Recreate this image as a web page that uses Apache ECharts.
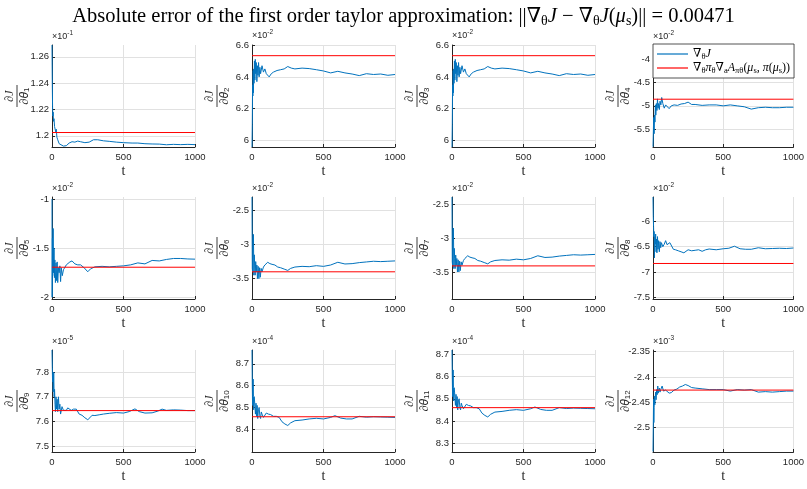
<!DOCTYPE html>
<html>
<head>
<meta charset="utf-8">
<title>First order taylor approximation</title>
<script src="https://cdn.jsdelivr.net/npm/echarts@6/dist/echarts.min.js"></script>
<style>
html, body { margin: 0; padding: 0; background: #fff; }
#chart { width: 807px; height: 489px; }
</style>
</head>
<body>
<div id="chart"></div>
<script>
// values, in units of each axis exponent (x10^e)
const blue1 = [[0,1.269],[2,1.24],[4,1.222],[6,1.215],[8,1.218],[10,1.211],[14,1.213],[18,1.207],[22,1.208],[26,1.203],[30,1.205],[34,1.199],[40,1.197],[50,1.194],[60,1.1925],[80,1.1922],[100,1.1925],[110,1.1935],[120,1.1945],[140,1.1955],[160,1.1952],[180,1.196],[200,1.1955],[230,1.1948],[260,1.1952],[290,1.197],[320,1.197],[360,1.1962],[400,1.1958],[450,1.1952],[500,1.1948],[560,1.1945],[600,1.1945],[650,1.194],[700,1.1938],[750,1.1937],[800,1.1932],[850,1.1935],[900,1.1933],[950,1.1935],[1000,1.1933]];
const blue2 = [[0,5.96],[2,6.1],[4,6.35],[6,6.28],[8,6.44],[10,6.3],[12,6.45],[14,6.36],[17,6.5],[20,6.38],[23,6.51],[26,6.42],[30,6.49],[34,6.37],[38,6.47],[42,6.41],[46,6.49],[50,6.4],[55,6.46],[60,6.42],[70,6.47],[80,6.43],[90,6.45],[100,6.42],[110,6.41],[120,6.4],[135,6.42],[150,6.43],[175,6.44],[200,6.445],[225,6.45],[250,6.465],[275,6.455],[300,6.45],[350,6.455],[400,6.452],[450,6.445],[500,6.437],[550,6.425],[600,6.435],[650,6.425],[700,6.418],[750,6.408],[800,6.42],[850,6.415],[900,6.418],[950,6.41],[1000,6.415]];
const blue3 = [[0,5.96],[2,6.1],[4,6.35],[6,6.28],[8,6.44],[10,6.3],[12,6.45],[14,6.36],[17,6.5],[20,6.38],[23,6.51],[26,6.42],[30,6.49],[34,6.37],[38,6.47],[42,6.41],[46,6.49],[50,6.4],[55,6.46],[60,6.42],[70,6.47],[80,6.43],[90,6.45],[100,6.42],[110,6.41],[120,6.4],[135,6.42],[150,6.43],[175,6.44],[200,6.445],[225,6.45],[250,6.465],[275,6.455],[300,6.45],[350,6.455],[400,6.452],[450,6.445],[500,6.437],[550,6.425],[600,6.435],[650,6.425],[700,6.418],[750,6.408],[800,6.42],[850,6.415],[900,6.418],[950,6.41],[1000,6.415]];
const blue4 = [[0,-5.88],[3,-5.5],[5,-5.25],[8,-5.6],[11,-5.2],[14,-5.35],[17,-4.98],[20,-5.2],[24,-4.95],[28,-5.1],[32,-4.85],[36,-5.05],[40,-4.95],[45,-5.08],[50,-4.9],[56,-4.98],[62,-4.82],[70,-4.95],[80,-5.05],[90,-4.98],[100,-5.02],[115,-5.06],[130,-5.0],[150,-4.98],[175,-4.99],[200,-4.96],[225,-4.95],[250,-4.92],[275,-4.97],[300,-4.97],[350,-4.99],[400,-4.98],[450,-4.98],[500,-5.0],[550,-4.98],[600,-5.0],[650,-5.02],[700,-5.07],[750,-5.04],[800,-5.03],[850,-5.04],[900,-5.04],[950,-5.03],[1000,-5.03]];
const blue5 = [[0,-1.0],[1,-2.0],[3,-1.4],[5,-1.78],[8,-1.3],[11,-1.75],[14,-1.5],[17,-1.8],[20,-1.62],[24,-1.85],[28,-1.65],[32,-1.83],[36,-1.64],[40,-1.85],[45,-1.7],[50,-1.75],[55,-1.68],[60,-1.84],[65,-1.7],[72,-1.78],[80,-1.72],[90,-1.7],[100,-1.67],[110,-1.66],[125,-1.64],[140,-1.63],[160,-1.66],[180,-1.67],[200,-1.67],[225,-1.7],[250,-1.74],[270,-1.71],[300,-1.69],[350,-1.685],[400,-1.69],[450,-1.685],[500,-1.68],[550,-1.67],[600,-1.65],[650,-1.66],[700,-1.625],[750,-1.63],[800,-1.615],[850,-1.605],[900,-1.605],[950,-1.61],[1000,-1.612]];
const blue6 = [[0,-2.3],[2,-3.35],[4,-3.4],[7,-2.9],[10,-2.85],[13,-3.45],[16,-3.15],[19,-3.3],[22,-3.45],[26,-3.25],[30,-3.4],[34,-3.3],[38,-3.5],[43,-3.32],[48,-3.5],[53,-3.34],[58,-3.48],[64,-3.35],[70,-3.4],[80,-3.33],[90,-3.3],[100,-3.28],[110,-3.26],[125,-3.28],[140,-3.29],[160,-3.3],[180,-3.33],[200,-3.34],[225,-3.36],[250,-3.38],[270,-3.35],[300,-3.33],[350,-3.32],[400,-3.325],[450,-3.31],[500,-3.32],[550,-3.3],[600,-3.26],[650,-3.285],[700,-3.28],[750,-3.265],[800,-3.255],[850,-3.245],[900,-3.25],[950,-3.245],[1000,-3.24]];
const blue7 = [[0,-2.39],[2,-3.35],[4,-3.4],[7,-2.9],[10,-2.85],[13,-3.45],[16,-3.15],[19,-3.3],[22,-3.45],[26,-3.25],[30,-3.4],[34,-3.3],[38,-3.5],[43,-3.32],[48,-3.5],[53,-3.34],[58,-3.48],[64,-3.35],[70,-3.4],[80,-3.33],[90,-3.3],[100,-3.28],[110,-3.26],[125,-3.28],[140,-3.29],[160,-3.3],[180,-3.33],[200,-3.34],[225,-3.36],[250,-3.38],[270,-3.35],[300,-3.33],[350,-3.32],[400,-3.325],[450,-3.31],[500,-3.32],[550,-3.3],[600,-3.26],[650,-3.285],[700,-3.28],[750,-3.265],[800,-3.255],[850,-3.245],[900,-3.25],[950,-3.245],[1000,-3.24]];
const blue8 = [[0,-5.52],[2,-5.9],[4,-6.1],[6,-6.3],[8,-6.2],[10,-6.72],[13,-6.3],[16,-6.45],[19,-6.25],[22,-6.6],[25,-6.35],[28,-6.62],[32,-6.3],[36,-6.55],[40,-6.38],[45,-6.6],[50,-6.4],[55,-6.52],[60,-6.42],[70,-6.5],[80,-6.45],[90,-6.38],[100,-6.46],[110,-6.48],[120,-6.42],[130,-6.45],[145,-6.55],[160,-6.56],[180,-6.58],[200,-6.6],[220,-6.62],[250,-6.56],[275,-6.58],[300,-6.57],[325,-6.56],[350,-6.59],[375,-6.56],[400,-6.545],[450,-6.56],[500,-6.54],[540,-6.53],[580,-6.49],[620,-6.54],[660,-6.55],[700,-6.55],[750,-6.52],[800,-6.54],[850,-6.535],[900,-6.53],[950,-6.535],[1000,-6.525]];
const blue9 = [[0,7.89],[2,7.82],[4,7.76],[6,7.79],[8,7.72],[10,7.74],[12,7.8],[15,7.7],[18,7.73],[21,7.67],[24,7.64],[28,7.7],[32,7.65],[36,7.69],[40,7.64],[45,7.7],[50,7.65],[55,7.67],[60,7.63],[70,7.66],[80,7.645],[90,7.65],[100,7.645],[110,7.655],[120,7.66],[135,7.645],[150,7.65],[170,7.65],[190,7.63],[210,7.625],[230,7.615],[250,7.607],[265,7.615],[280,7.625],[300,7.624],[330,7.627],[360,7.63],[400,7.633],[450,7.636],[500,7.634],[540,7.64],[580,7.651],[610,7.64],[650,7.634],[700,7.635],[740,7.642],[770,7.65],[800,7.645],[850,7.647],[900,7.646],[950,7.644],[1000,7.644]];
const blue10 = [[0,8.763],[2,8.6],[4,8.51],[6,8.58],[8,8.63],[10,8.55],[12,8.49],[15,8.55],[18,8.53],[21,8.5],[24,8.47],[28,8.52],[32,8.46],[36,8.51],[40,8.45],[45,8.49],[50,8.5],[55,8.46],[60,8.45],[65,8.48],[70,8.47],[80,8.455],[90,8.46],[100,8.475],[115,8.47],[130,8.468],[150,8.46],[170,8.46],[190,8.455],[210,8.435],[230,8.425],[250,8.418],[270,8.43],[300,8.44],[350,8.443],[400,8.448],[450,8.451],[500,8.448],[550,8.455],[580,8.463],[620,8.452],[660,8.448],[700,8.448],[750,8.46],[800,8.456],[850,8.458],[900,8.457],[950,8.456],[1000,8.455]];
const blue11 = [[0,8.72],[2,8.6],[4,8.51],[6,8.58],[8,8.63],[10,8.55],[12,8.49],[15,8.55],[18,8.53],[21,8.5],[24,8.47],[28,8.52],[32,8.46],[36,8.51],[40,8.45],[45,8.49],[50,8.5],[55,8.46],[60,8.45],[65,8.48],[70,8.47],[80,8.455],[90,8.46],[100,8.475],[115,8.47],[130,8.468],[150,8.46],[170,8.46],[190,8.455],[210,8.435],[230,8.425],[250,8.418],[270,8.43],[300,8.44],[350,8.443],[400,8.448],[450,8.451],[500,8.448],[550,8.455],[580,8.463],[620,8.452],[660,8.448],[700,8.448],[750,8.46],[800,8.456],[850,8.458],[900,8.457],[950,8.456],[1000,8.455]];
const blue12 = [[0,-2.547],[2,-2.5],[4,-2.444],[6,-2.49],[8,-2.46],[10,-2.438],[13,-2.455],[16,-2.44],[19,-2.43],[22,-2.445],[26,-2.425],[30,-2.435],[34,-2.418],[38,-2.432],[45,-2.422],[50,-2.43],[55,-2.425],[65,-2.418],[75,-2.428],[90,-2.426],[100,-2.428],[115,-2.432],[130,-2.431],[150,-2.426],[170,-2.424],[190,-2.42],[210,-2.418],[230,-2.415],[250,-2.417],[275,-2.421],[300,-2.422],[350,-2.4235],[400,-2.425],[450,-2.425],[500,-2.425],[550,-2.428],[600,-2.425],[650,-2.426],[700,-2.425],[750,-2.43],[800,-2.429],[850,-2.43],[900,-2.429],[950,-2.428],[1000,-2.428]];

const redLevels = [1.2025, 6.533, 6.533, -4.857, -1.694, -3.40, -3.41, -6.83, 7.644, 8.458, 8.46, -2.426];
const yMin = [1.1915, 5.96, 5.96, -5.886, -2.017, -3.80, -3.90, -7.53, 7.476, 8.297, 8.26, -2.548];
const yMax = [1.269, 6.6, 6.6, -3.69, -0.98, -2.30, -2.39, -5.52, 7.89, 8.763, 8.72, -2.347];
const yTicks = [
  [1.2, 1.22, 1.24, 1.26],
  [6, 6.2, 6.4, 6.6],
  [6, 6.2, 6.4, 6.6],
  [-5.5, -5, -4.5, -4],
  [-2, -1.5, -1],
  [-3.5, -3, -2.5],
  [-3.5, -3, -2.5],
  [-7.5, -7, -6.5, -6],
  [7.5, 7.6, 7.7, 7.8],
  [8.4, 8.5, 8.6, 8.7],
  [8.3, 8.4, 8.5, 8.6, 8.7],
  [-2.5, -2.45, -2.4, -2.35]
];
const yExp = [-1, -2, -2, -2, -2, -2, -2, -2, -5, -4, -4, -3];
const tTicks = [0, 500, 1000];

const SANS = '"Liberation Sans", Arial, sans-serif';
const SERIF = '"Liberation Serif", "DejaVu Serif", serif';
const INK = '#262626';
const BLUE = '#0072BD';
const RED = '#ff0000';

const colLeft = [52, 252, 452, 653];
const rowTop = [45, 197, 350];
const plotW = 143, plotH = 102;

const legendText = {
  gradJ: '∇{sub|θ}{i|J}',
  approx: '∇{sub|θ}{i|π}{sub|θ}∇{sub|a}{i|A}{sub|πθ}({i|μ}{sub|s}, {i|π}({i|μ}{sub|s}))'
};

const blues = [blue1, blue2, blue3, blue4, blue5, blue6, blue7, blue8, blue9, blue10, blue11, blue12];
const grids = [], xAxes = [], yAxes = [], series = [], graphics = [];

blues.forEach((b, i) => {
  const left = colLeft[i % 4];
  const top = rowTop[Math.floor(i / 4)];
  grids.push({ left: left, top: top, width: plotW, height: plotH });

  xAxes.push({
    type: 'value', gridIndex: i,
    min: tTicks[0], max: tTicks[tTicks.length - 1], interval: tTicks[1] - tTicks[0],
    name: 't', nameLocation: 'middle', nameGap: 17,
    nameTextStyle: { fontFamily: SERIF, fontSize: 14, color: INK },
    axisLine: { show: true, onZero: false, lineStyle: { color: INK, width: 1 } },
    axisTick: { show: true, inside: true, length: 3, lineStyle: { color: INK } },
    axisLabel: { fontFamily: SANS, fontSize: 9.5, color: INK, margin: 5, formatter: v => String(v) },
    splitLine: { show: true, lineStyle: { color: '#e1e1e1', width: 1 } }
  });

  yAxes.push({
    type: 'value', gridIndex: i, min: yMin[i], max: yMax[i],
    name: '×10{sup|' + yExp[i] + '}', nameLocation: 'end', nameGap: 2,
    nameTextStyle: {
      fontFamily: SANS, fontSize: 9, color: INK, align: 'left', verticalAlign: 'bottom',
      rich: { sup: { fontSize: 6.5, padding: [0, 0, 6, 0] } }
    },
    axisLine: { show: true, onZero: false, lineStyle: { color: INK, width: 1 } },
    axisTick: { show: true, inside: true, length: 3, customValues: yTicks[i], lineStyle: { color: INK } },
    axisLabel: {
      customValues: yTicks[i], fontFamily: SANS, fontSize: 9.5, color: INK, margin: 3,
      formatter: v => String(+v.toFixed(3))
    },
    splitLine: { show: true, lineStyle: { color: '#e1e1e1', width: 1 } }
  });

  series.push({
    name: 'gradJ', type: 'line', xAxisIndex: i, yAxisIndex: i, data: b,
    symbol: 'none', showSymbol: false, z: 2,
    emphasis: { disabled: true },
    lineStyle: { color: BLUE, width: 1 }, itemStyle: { color: BLUE }
  });
  series.push({
    name: 'approx', type: 'line', xAxisIndex: i, yAxisIndex: i,
    data: [[tTicks[0], redLevels[i]], [tTicks[tTicks.length - 1], redLevels[i]]],
    symbol: 'none', showSymbol: false, z: 3,
    emphasis: { disabled: true },
    lineStyle: { color: RED, width: 1 }, itemStyle: { color: RED }
  });

  // y label dJ / dtheta_i as a rotated fraction
  graphics.push({
    type: 'group', x: left - 35, y: top + plotH / 2, rotation: Math.PI / 2,
    children: [
      { type: 'text', x: 0, y: -1, style: { text: '∂J', fontFamily: SERIF, fontStyle: 'italic', fontSize: 12, fill: INK, align: 'center', verticalAlign: 'bottom' } },
      { type: 'line', shape: { x1: -11, y1: 0, x2: 11, y2: 0 }, style: { stroke: INK, lineWidth: 0.9 } },
      { type: 'text', x: 0, y: 1, style: {
        text: '∂{i|θ}{sub|' + (i + 1) + '}', fontFamily: SERIF, fontSize: 12, fill: INK, align: 'center', verticalAlign: 'top',
        rich: { i: { fontStyle: 'italic', fontSize: 12 }, sub: { fontSize: 8, padding: [5, 0, 0, 0] } }
      } }
    ]
  });
});

const chart = echarts.init(document.getElementById('chart'), null, { renderer: 'canvas' });
chart.setOption({
  animation: false,
  backgroundColor: '#fff',
  title: {
    text: 'Absolute error of the first order taylor approximation: ||∇{sub|θ}{i|J} − ∇{sub|θ}{i|J}({i|μ}{sub|s})|| = 0.00471',
    left: 'center', top: 1,
    textStyle: {
      fontFamily: SERIF, fontSize: 20.5, fontWeight: 'normal', color: '#000',
      rich: { i: { fontStyle: 'italic', fontSize: 20.5 }, sub: { fontSize: 14, padding: [8, 0, 0, 0] } }
    }
  },
  legend: {
    data: [{ name: 'gradJ', icon: 'rect' }, { name: 'approx', icon: 'rect' }],
    orient: 'vertical', left: 653, top: 44,
    itemWidth: 31, itemHeight: 1.2, itemGap: 0,
    padding: [3, 4, 3, 4],
    backgroundColor: '#fff', borderColor: INK, borderWidth: 0.8, borderRadius: 0,
    selectedMode: false,
    textStyle: {
      fontFamily: SERIF, fontSize: 12, lineHeight: 11.5, color: '#000',
      rich: {
        i: { fontStyle: 'italic', fontSize: 12, lineHeight: 11.5 },
        sub: { fontSize: 8.5, lineHeight: 11.5, padding: [5, 0, 0, 0] }
      }
    },
    formatter: n => legendText[n]
  },
  grid: grids,
  xAxis: xAxes,
  yAxis: yAxes,
  series: series,
  graphic: graphics
});
</script>
</body>
</html>
